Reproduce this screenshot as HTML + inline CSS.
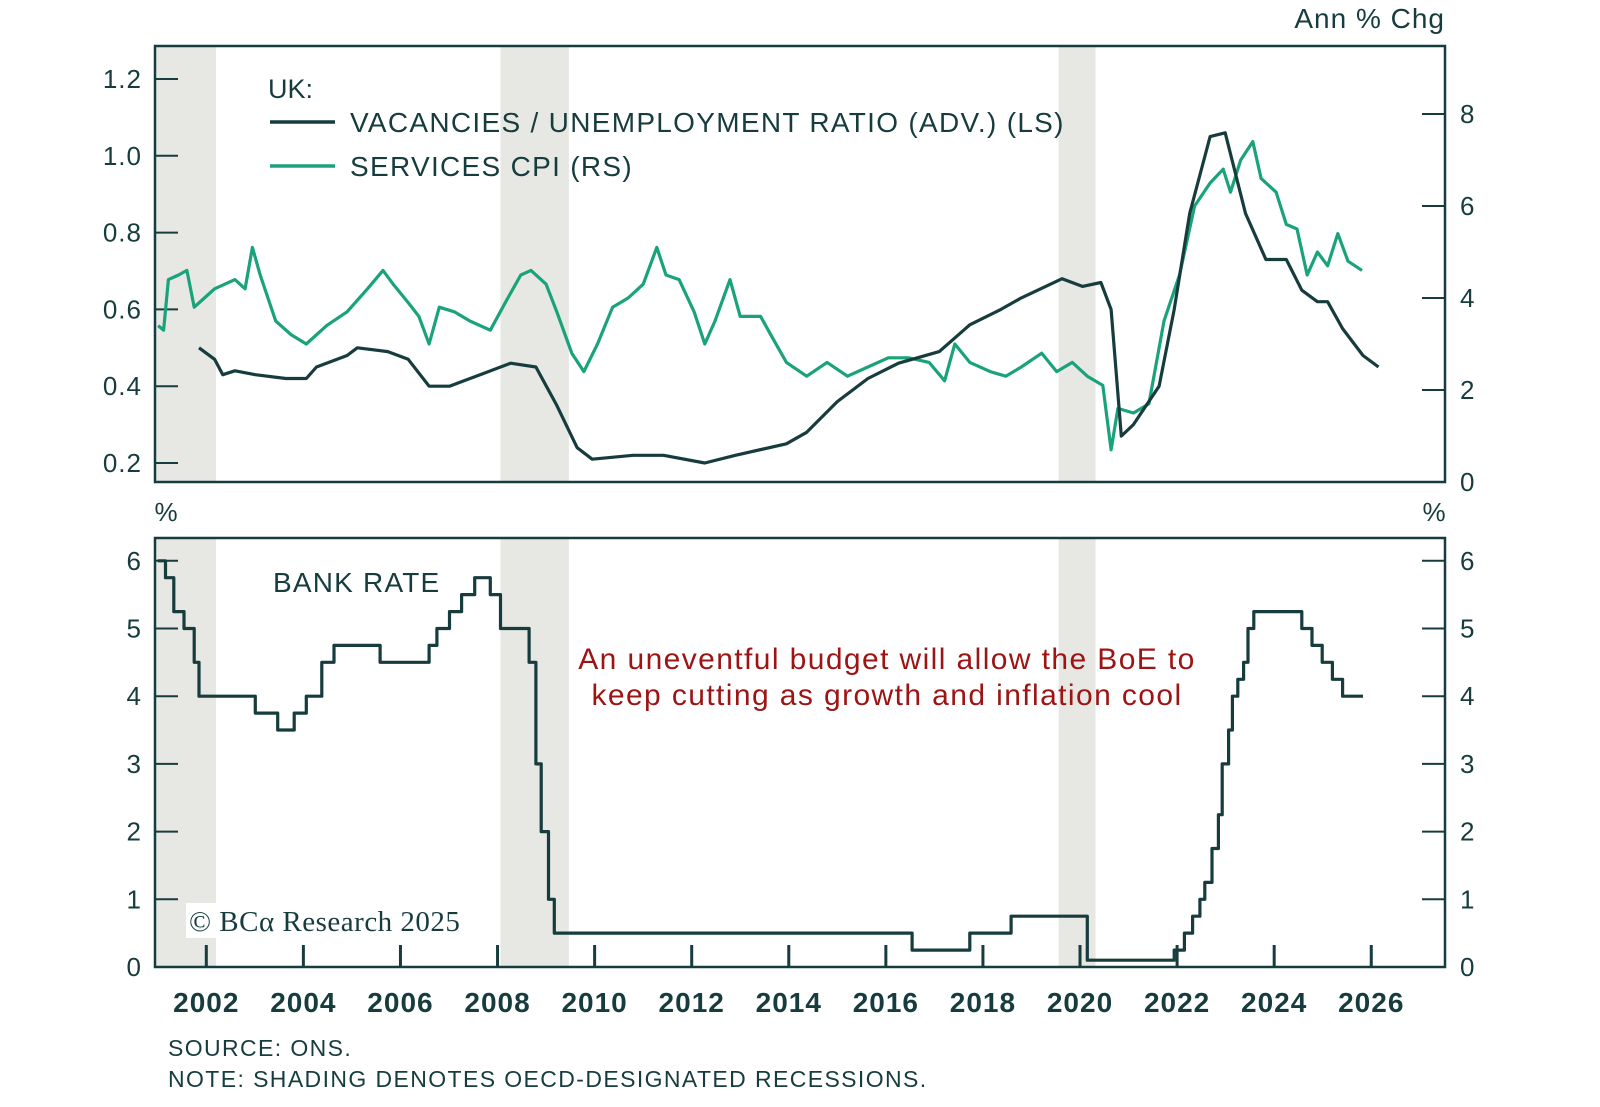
<!DOCTYPE html>
<html><head><meta charset="utf-8"><style>
html,body{margin:0;padding:0;background:#fff;}
svg{display:block;font-family:"Liberation Sans",sans-serif;}
</style></head><body>
<svg id="chart" width="1600" height="1107" viewBox="0 0 1600 1107" xmlns="http://www.w3.org/2000/svg">
<g id="shade"></g>
<g id="grid"></g>
<g id="lines"></g>
<g id="texts"></g>
</svg>
<script>
const recessionStarts=[2000.9,2008.06,2019.56];
const recessionEnds=[2002.2,2009.47,2020.32];
const vuDates=[2001.85,2002.17,2002.34,2002.59,2003.01,2003.64,2004.06,2004.27,2004.90,2005.11,2005.74,2006.16,2006.59,2007.01,2007.64,2008.27,2008.79,2009.22,2009.64,2009.95,2010.79,2011.42,2012.27,2012.90,2013.95,2014.37,2015.00,2015.63,2016.26,2017.10,2017.73,2018.37,2018.79,2019.63,2020.05,2020.43,2020.64,2020.85,2021.10,2021.63,2021.94,2022.26,2022.68,2022.99,2023.41,2023.83,2024.25,2024.57,2024.89,2025.10,2025.41,2025.83,2026.15];
const vuValues=[0.50,0.47,0.43,0.44,0.43,0.42,0.42,0.45,0.48,0.50,0.49,0.47,0.40,0.40,0.43,0.46,0.45,0.35,0.24,0.21,0.22,0.22,0.20,0.22,0.25,0.28,0.36,0.42,0.46,0.49,0.56,0.60,0.63,0.68,0.66,0.67,0.60,0.27,0.30,0.40,0.60,0.85,1.05,1.06,0.85,0.73,0.73,0.65,0.62,0.62,0.55,0.48,0.45];
const cpiDates=[2001.01,2001.12,2001.22,2001.43,2001.60,2001.75,2001.96,2002.17,2002.59,2002.80,2002.95,2003.11,2003.43,2003.75,2004.06,2004.48,2004.90,2005.32,2005.64,2005.85,2006.16,2006.38,2006.59,2006.80,2007.11,2007.43,2007.85,2008.16,2008.48,2008.69,2009.00,2009.22,2009.53,2009.78,2010.06,2010.37,2010.69,2011.00,2011.28,2011.47,2011.74,2012.05,2012.27,2012.48,2012.79,2013.00,2013.42,2013.63,2013.95,2014.37,2014.79,2015.21,2015.63,2016.05,2016.47,2016.89,2017.21,2017.42,2017.73,2018.15,2018.47,2018.79,2019.21,2019.52,2019.84,2020.15,2020.47,2020.64,2020.78,2021.10,2021.42,2021.73,2022.05,2022.36,2022.68,2022.95,2023.10,2023.31,2023.56,2023.73,2024.04,2024.25,2024.47,2024.68,2024.89,2025.10,2025.31,2025.52,2025.81];
const cpiValues=[3.4,3.3,4.4,4.5,4.6,3.8,4.0,4.2,4.4,4.2,5.1,4.5,3.5,3.2,3.0,3.4,3.7,4.2,4.6,4.3,3.9,3.6,3.0,3.8,3.7,3.5,3.3,3.9,4.5,4.6,4.3,3.7,2.8,2.4,3.0,3.8,4.0,4.3,5.1,4.5,4.4,3.7,3.0,3.5,4.4,3.6,3.6,3.2,2.6,2.3,2.6,2.3,2.5,2.7,2.7,2.6,2.2,3.0,2.6,2.4,2.3,2.5,2.8,2.4,2.6,2.3,2.1,0.7,1.6,1.5,1.7,3.5,4.5,6.0,6.5,6.8,6.3,7.0,7.4,6.6,6.3,5.6,5.5,4.5,5.0,4.7,5.4,4.8,4.6];
const rateDates=[2001.0,2001.16,2001.33,2001.54,2001.75,2001.85,2003.01,2003.47,2003.81,2004.06,2004.38,2004.63,2005.58,2006.59,2006.75,2007.01,2007.26,2007.53,2007.85,2008.06,2008.65,2008.79,2008.90,2009.05,2009.17,2016.54,2017.73,2018.58,2020.15,2021.94,2022.15,2022.32,2022.47,2022.57,2022.72,2022.85,2022.93,2023.06,2023.14,2023.25,2023.37,2023.46,2023.58,2024.57,2024.78,2024.99,2025.20,2025.41,2025.73];
const rateValues=[6.0,5.75,5.25,5.0,4.5,4.0,3.75,3.5,3.75,4.0,4.5,4.75,4.5,4.75,5.0,5.25,5.5,5.75,5.5,5.0,4.5,3.0,2.0,1.0,0.5,0.25,0.5,0.75,0.1,0.25,0.5,0.75,1.0,1.25,1.75,2.25,3.0,3.5,4.0,4.25,4.5,5.0,5.25,5.0,4.75,4.5,4.25,4.0,4.0];
const rateEnd=2025.83;
const xTickYears=[2002,2004,2006,2008,2010,2012,2014,2016,2018,2020,2022,2024,2026];
const leftTicks=[0.2,0.4,0.6,0.8,1.0,1.2];
const rightTicksTop=[0,2,4,6,8];
const rateTicks=[0,1,2,3,4,5,6];

const NS="http://www.w3.org/2000/svg";
const INK="#173c3e", GREEN="#1aa37a";
const L=155,R=1445,T1=46,B1=482,T2=538,B2=967;
const x=t=>206.3+(t-2002)*48.54;
const yL=v=>463-(v-0.2)*384;
const yR=v=>482-v*46;
const yB=v=>967-v*67.7;
function mk(tag,attrs,parent){const e=document.createElementNS(NS,tag);for(const k in attrs)e.setAttribute(k,attrs[k]);parent.appendChild(e);return e;}
const shade=document.getElementById('shade'),grid=document.getElementById('grid'),lines=document.getElementById('lines'),texts=document.getElementById('texts');
function txt(s,xx,yy,size,anchor,fill,name,extra){const e=mk('text',Object.assign({x:xx,y:yy,'font-size':size,'text-anchor':anchor||'start',fill:fill||INK},extra||{}),texts);e.textContent=s;


return e;}

recessionStarts.forEach((s,i)=>{
  const a=Math.max(L,x(s)),b=x(recessionEnds[i]);
  [[T1,B1],[T2,B2]].forEach(([t,bb])=>{
    const r=mk('rect',{x:a,y:t,width:b-a,height:bb-t,fill:'#e7e7e3'},shade);
    
    
  });
});

[[T1,B1,'top-panel-frame'],[T2,B2,'bottom-panel-frame']].forEach(([t,b,n])=>{
  const r=mk('rect',{x:L,y:t,width:R-L,height:b-t,fill:'none',stroke:INK,'stroke-width':2.5},grid);
  
  
});
const tk={'font-size':26,'letter-spacing':1};
leftTicks.forEach(v=>{mk('line',{x1:L,x2:L+23,y1:yL(v),y2:yL(v),stroke:INK,'stroke-width':2},grid);
  txt(v.toFixed(1),142,yL(v)+9,26,'end',INK,'left-axis-tick-label',{'letter-spacing':1});});
rightTicksTop.forEach(v=>{mk('line',{x1:R-23,x2:R,y1:yR(v),y2:yR(v),stroke:INK,'stroke-width':2},grid);
  txt(String(v),1460,yR(v)+9,26,'start',INK,'right-axis-tick-label');});
rateTicks.forEach(v=>{mk('line',{x1:L,x2:L+23,y1:yB(v),y2:yB(v),stroke:INK,'stroke-width':2},grid);
  mk('line',{x1:R-23,x2:R,y1:yB(v),y2:yB(v),stroke:INK,'stroke-width':2},grid);
  txt(String(v),141,yB(v)+9,26,'end',INK,'rate-left-tick-label');
  txt(String(v),1460,yB(v)+9,26,'start',INK,'rate-right-tick-label');});
xTickYears.forEach(t=>{mk('line',{x1:x(t),x2:x(t),y1:B2-22,y2:B2,stroke:INK,'stroke-width':3},grid);
  txt(String(t),x(t),1012,28,'middle',INK,'x-axis-year-label',{'font-weight':'bold','letter-spacing':1});});

function poly(dates,vals,fy,color,name){
  const p=mk('polyline',{points:dates.map((d,i)=>x(d).toFixed(1)+','+fy(vals[i]).toFixed(1)).join(' '),fill:'none',stroke:color,'stroke-width':3.2,'stroke-linejoin':'round'},lines);
  
  
}
poly(cpiDates,cpiValues,yR,GREEN,'services-cpi-line');
poly(vuDates,vuValues,yL,INK,'vacancies-unemployment-line');
let pts=[];
rateDates.forEach((d,i)=>{ if(i>0) pts.push([d,rateValues[i-1]]); pts.push([d,rateValues[i]]); });
pts.push([rateEnd,rateValues[rateValues.length-1]]);
const br=mk('polyline',{points:pts.map(p=>x(p[0]).toFixed(1)+','+yB(p[1]).toFixed(1)).join(' '),fill:'none',stroke:INK,'stroke-width':3.2,'stroke-linejoin':'round'},lines);



txt('Ann % Chg',1445,28,28,'end',INK,'right-axis-unit',{'letter-spacing':1});
txt('UK:',268,98,27,'start',INK,'legend-title');
const l1=mk('line',{x1:270,x2:335,y1:122,y2:122,stroke:INK,'stroke-width':3.5},texts);


txt('VACANCIES / UNEMPLOYMENT RATIO (ADV.) (LS)',350,132,28,'start',INK,'legend-entry-vu',{'letter-spacing':1.3});
const l2=mk('line',{x1:270,x2:335,y1:166,y2:166,stroke:GREEN,'stroke-width':3.5},texts);


txt('SERVICES CPI (RS)',350,176,28,'start',INK,'legend-entry-cpi',{'letter-spacing':1.3});
txt('%',166,521,26,'middle',INK,'left-unit-label');
txt('%',1434,521,26,'middle',INK,'right-unit-label');
txt('BANK RATE',273,592,28,'start',INK,'bank-rate-label',{'letter-spacing':1.2});
txt('An uneventful budget will allow the BoE to',887,669,30,'middle','#9c1414','annotation-line-1',{'letter-spacing':1.4});
txt('keep cutting as growth and inflation cool',887,705,30,'middle','#9c1414','annotation-line-2',{'letter-spacing':1.4});
const cb=mk('rect',{x:186,y:903,width:282,height:35,fill:'#fff'},texts);


txt('© BCα Research 2025',189,931,29,'start',INK,'copyright',{'font-family':'Liberation Serif, serif','letter-spacing':0.5});
txt('SOURCE: ONS.',168,1056,23,'start',INK,'source-note',{'letter-spacing':1.4});
txt('NOTE: SHADING DENOTES OECD-DESIGNATED RECESSIONS.',168,1087,23,'start',INK,'shading-note',{'letter-spacing':1.4});
</script>
</body></html>
